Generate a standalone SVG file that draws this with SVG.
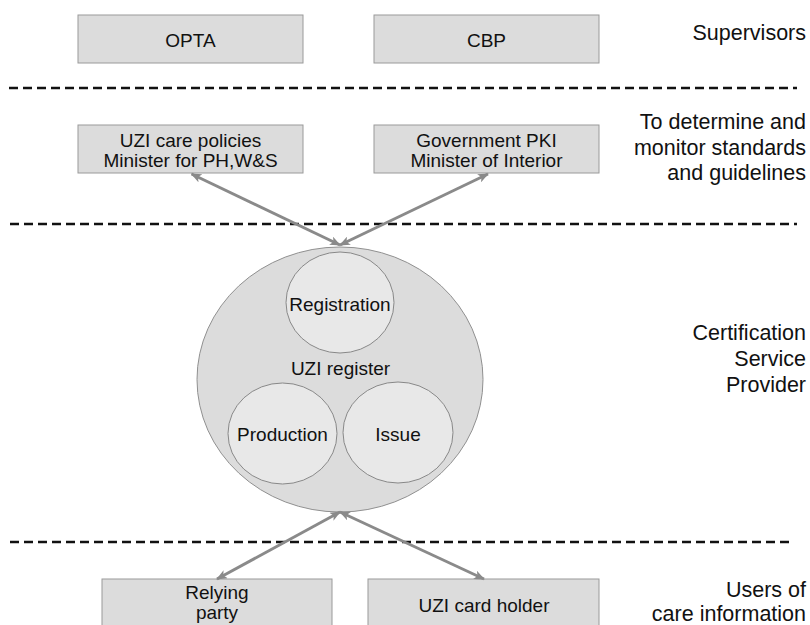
<svg xmlns="http://www.w3.org/2000/svg" width="810" height="625" viewBox="0 0 810 625">
<style>
.box{fill:#dcdcdc;stroke:#9a9a9a;stroke-width:1}
.outer{fill:#dcdcdc;stroke:#909090;stroke-width:1}
.inner{fill:#e8e8e8;stroke:#888888;stroke-width:1}
.t{font-family:"Liberation Sans",Arial,sans-serif;font-size:19px;fill:#111;text-anchor:middle}
.r{font-family:"Liberation Sans",Arial,sans-serif;font-size:21.5px;fill:#111;text-anchor:end}
.dash{stroke:#111;stroke-width:2.5;stroke-dasharray:9 5;fill:none}
.arr{stroke:#8a8a8a;stroke-width:3;fill:none;marker-start:url(#ah);marker-end:url(#ah)}
</style>
<defs>
<marker id="ah" markerUnits="userSpaceOnUse" viewBox="0 0 12 10" refX="11" refY="5" markerWidth="11" markerHeight="9" orient="auto-start-reverse">
<path d="M0,0 L12,5 L0,10 L3,5 Z" fill="#8a8a8a"/>
</marker>
</defs>
<g id="separators">
<line class="dash" x1="9" y1="88" x2="797" y2="88"/>
<line class="dash" x1="10" y1="224" x2="797" y2="224"/>
<line class="dash" x1="10" y1="542" x2="792" y2="542"/>
</g>
<g id="labels">
<text class="r" x="806" y="40">Supervisors</text>
<text class="r" x="806" y="129">To determine and</text>
<text class="r" x="806" y="155">monitor standards </text>
<text class="r" x="806" y="180">and guidelines</text>
<text class="r" x="806" y="340">Certification</text>
<text class="r" x="806" y="366">Service</text>
<text class="r" x="806" y="392">Provider</text>
<text class="r" x="806" y="597">Users of</text>
<text class="r" x="806" y="621">care information</text>
</g>
<g id="opta"><rect class="box" x="78" y="15" width="225" height="48"/><text class="t" x="190.5" y="46.5">OPTA</text></g>
<g id="cbp"><rect class="box" x="374" y="15" width="225" height="48"/><text class="t" x="486.5" y="46.5">CBP</text></g>
<g id="uzi-care"><rect class="box" x="78" y="125" width="225" height="48"/><text class="t" x="190.5" y="147">UZI care policies</text><text class="t" x="190.5" y="166.5">Minister for PH,W&amp;S</text></g>
<g id="gov-pki"><rect class="box" x="374" y="125" width="225" height="48"/><text class="t" x="486.5" y="147">Government PKI</text><text class="t" x="486.5" y="166.5">Minister of Interior</text></g>
<g id="uzi-register">
<ellipse class="outer" cx="340" cy="379.5" rx="143" ry="132.5"/>
<text class="t" x="340.5" y="375">UZI register</text>
</g>
<g id="registration"><ellipse class="inner" cx="340" cy="302.5" rx="54" ry="50.5"/><text class="t" x="340" y="311">Registration</text></g>
<g id="production"><ellipse class="inner" cx="282.5" cy="433.5" rx="54.5" ry="50.5"/><text class="t" x="282.5" y="441">Production</text></g>
<g id="issue"><ellipse class="inner" cx="398" cy="432.5" rx="55" ry="50.5"/><text class="t" x="398" y="440.5">Issue</text></g>
<g id="relying"><rect class="box" x="102" y="579" width="230" height="60"/><text class="t" x="217" y="599">Relying</text><text class="t" x="217" y="618.5">party</text></g>
<g id="card-holder"><rect class="box" x="368" y="579" width="231" height="60"/><text class="t" x="484" y="611.5">UZI card holder</text></g>
<g id="connectors">
<line class="arr" x1="191.5" y1="174" x2="340" y2="245"/>
<line class="arr" x1="488" y1="174" x2="340" y2="245"/>
<line class="arr" x1="340" y1="512" x2="217" y2="579"/>
<line class="arr" x1="340" y1="512" x2="484" y2="579"/>
</g>
</svg>
